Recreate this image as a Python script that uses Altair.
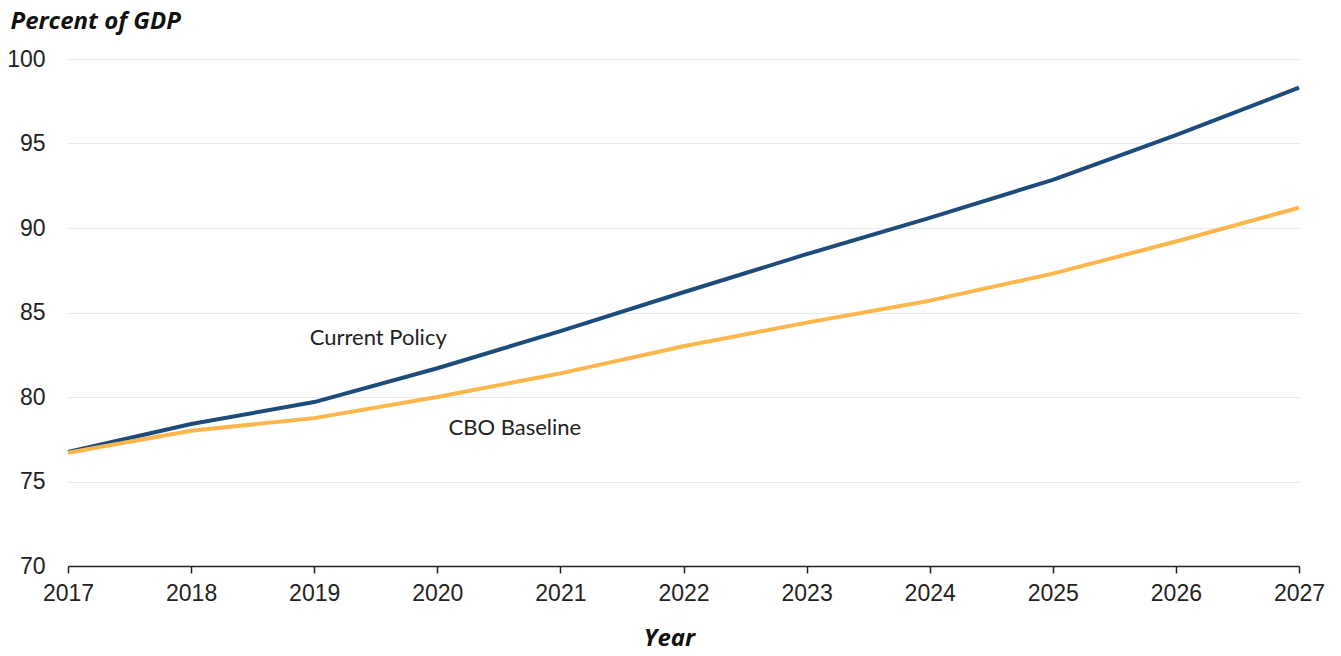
import altair as alt
import pandas as pd

years = [2017, 2018, 2019, 2020, 2021, 2022, 2023, 2024, 2025, 2026, 2027]
current_policy = [76.75, 78.4, 79.7, 81.7, 83.9, 86.2, 88.45, 90.6, 92.85, 95.5, 98.3]
cbo_baseline = [76.7, 78.0, 78.75, 80.0, 81.4, 83.0, 84.4, 85.7, 87.3, 89.2, 91.2]

label_text = ["Current Policy", "CBO Baseline"]
label_x = [2019.52, 2020.63]
label_y = [83.5, 78.15]

series_names = ["Current Policy", "CBO Baseline"]
series_colors = ["#1c4b7c", "#fdb64b"]

rows = []
for y, a, b in zip(years, current_policy, cbo_baseline):
    rows.append({"Year": y, "Value": a, "Series": "Current Policy"})
    rows.append({"Year": y, "Value": b, "Series": "CBO Baseline"})
df = pd.DataFrame(rows)
labels = pd.DataFrame({"text": label_text, "Year": label_x, "Value": label_y})

xscale = alt.Scale(domain=[2017, 2027], nice=False, zero=False)
yscale = alt.Scale(domain=[70, 100], nice=False, zero=False)

lines = alt.Chart(df).mark_line(strokeWidth=4, interpolate="linear", strokeJoin="round").encode(
    x=alt.X("Year:Q", scale=xscale,
            axis=alt.Axis(values=years, format="d", title="Year", grid=False,
                          domainColor="#222222", domainWidth=1.5, tickColor="#222222",
                          tickSize=7, tickWidth=1.5, labelFontSize=23, labelFont="Liberation Sans",
                          labelColor="#222222", labelPadding=9, labelFlush=False,
                          titleFont="Open Sans", titleFontStyle="italic", titleFontWeight="bold",
                          titleFontSize=24, titleColor="#111111",
                          titleAlign="center", titleX=601,
                          titleBaseline="alphabetic", titleY=79)),
    y=alt.Y("Value:Q", scale=yscale,
            axis=alt.Axis(values=[70, 75, 80, 85, 90, 95, 100], title="Percent of GDP",
                          domain=False, ticks=False, gridColor="#e8e8e8", gridWidth=1,
                          labelFontSize=23, labelFont="Liberation Sans", labelColor="#222222",
                          labelPadding=23,
                          titleAngle=0, titleAlign="left", titleBaseline="alphabetic",
                          titleX=-58, titleY=-31,
                          titleFont="Open Sans", titleFontStyle="italic", titleFontWeight="bold",
                          titleFontSize=24, titleColor="#111111")),
    color=alt.Color("Series:N", scale=alt.Scale(domain=series_names, range=series_colors), legend=None),
)

text = alt.Chart(labels).mark_text(font="Lato", fontSize=22, color="#222222").encode(
    x=alt.X("Year:Q", scale=xscale),
    y=alt.Y("Value:Q", scale=yscale),
    text="text:N",
)

chart = (lines + text).properties(
    width=1231, height=507,
    padding={"left": 60, "top": 51, "right": 34, "bottom": 82},
    autosize=alt.AutoSizeParams(type="none"),
).configure_view(stroke=None)

chart.save("out.html", embed_options={"renderer": "svg", "actions": False})
